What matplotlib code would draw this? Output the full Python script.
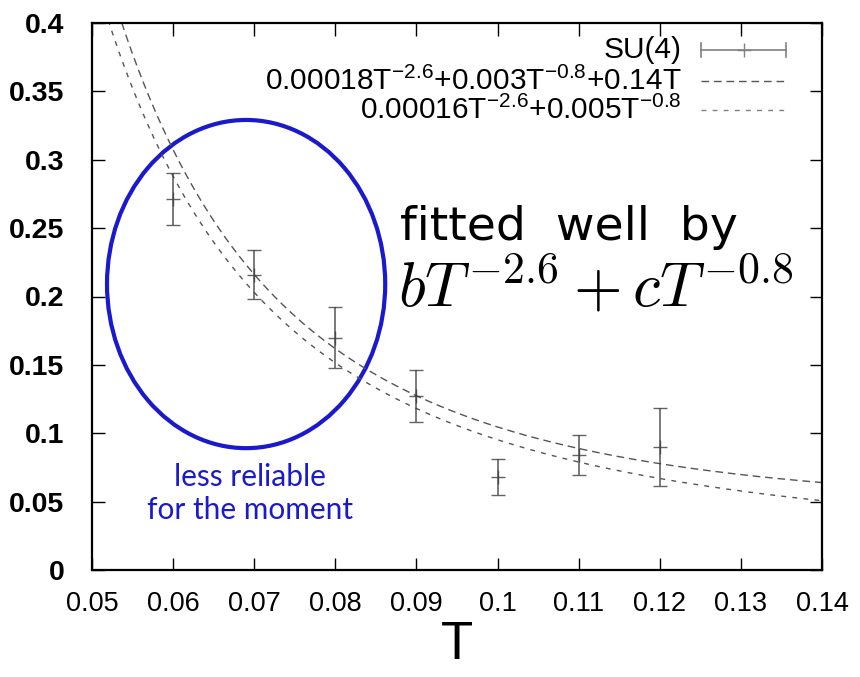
import numpy as np
import matplotlib
matplotlib.use("Agg")
import matplotlib.pyplot as plt
from matplotlib.patches import Ellipse

# SU(4) data points
T_pts = [0.06, 0.07, 0.08, 0.09, 0.10, 0.11, 0.12]
val_pts = [0.271, 0.216, 0.170, 0.127, 0.068, 0.084, 0.090]
err_pts = [0.019, 0.018, 0.022, 0.019, 0.013, 0.0145, 0.0285]

# fit coefficients: b T^-2.6 + c T^-0.8 (+ d T)
FIT1 = (0.00018, 0.003, 0.14)
FIT2 = (0.00016, 0.005, 0.0)

xticks = [0.05, 0.06, 0.07, 0.08, 0.09, 0.10, 0.11, 0.12, 0.13, 0.14]
xticklabels = ["0.05", "0.06", "0.07", "0.08", "0.09", "0.1", "0.11", "0.12", "0.13", "0.14"]
yticks = [0, 0.05, 0.10, 0.15, 0.20, 0.25, 0.30, 0.35, 0.40]
yticklabels = ["0", "0.05", "0.1", "0.15", "0.2", "0.25", "0.3", "0.35", "0.4"]

labels = ["SU(4)",
          r"0.00018T$^{-2.6}$+0.003T$^{-0.8}$+0.14T",
          r"0.00016T$^{-2.6}$+0.005T$^{-0.8}$"]

plt.rcParams["font.family"] = ["Liberation Sans", "DejaVu Sans"]
plt.rcParams["mathtext.fontset"] = "custom"
plt.rcParams["mathtext.rm"] = "Liberation Sans"
plt.rcParams["mathtext.it"] = "Liberation Sans:italic"

GRAY = "#555555"
BLUE = "#1a1acc"


def fit(T, b, c, d):
    return b * T ** -2.6 + c * T ** -0.8 + d * T


fig = plt.figure(figsize=(8.6, 6.77), dpi=100)
ax = fig.add_axes([92 / 860, 107 / 677, 730 / 860, 547 / 677])

T = np.linspace(0.05, 0.14, 500)
ax.plot(T, fit(T, *FIT1), color=GRAY, lw=1.0, ls=(0, (5.5, 3.5)))
ax.plot(T, fit(T, *FIT2), color=GRAY, lw=1.0, ls=(0, (3.5, 4.5)))

ax.errorbar(T_pts, val_pts, yerr=err_pts, fmt="+", color="#3c3c3c", ms=10,
            mew=1.0, elinewidth=1.2, capsize=5, capthick=1.2, alpha=0.8)

ax.set_xlim(0.05, 0.14)
ax.set_ylim(0, 0.4)
ax.set_xticks(xticks)
ax.set_xticklabels(xticklabels, fontsize=19.5)
ax.set_yticks(yticks)
ax.set_yticklabels(yticklabels, fontsize=20.5, fontweight="bold")
ax.tick_params(direction="in", length=9, width=1.0, top=True, right=True)
ax.tick_params(axis="y", pad=20)
ax.tick_params(axis="x", pad=15)
for s in ax.spines.values():
    s.set_linewidth(1.6)
ax.set_xlabel("T", fontsize=38, labelpad=2)

# key, gnuplot style: right-aligned text with sample on the right
key_y = [0.951, 0.894, 0.841]
tx, x0, x1 = 0.808, 0.834, 0.951
for yk, lab in zip(key_y, labels):
    ax.text(tx, yk, lab, transform=ax.transAxes, ha="right", va="center",
            fontsize=21.5, math_fontfamily="custom")
ax.plot([x0, x1], [key_y[0]] * 2, transform=ax.transAxes, color="#808080", lw=1.2)
for xe in (x0, x1):
    ax.plot([xe, xe], [key_y[0] - 0.013, key_y[0] + 0.013], transform=ax.transAxes,
            color="#808080", lw=1.2)
ax.plot([(x0 + x1) / 2], [key_y[0]], transform=ax.transAxes, marker="+", ms=10,
        color="#808080", mew=1.0)
ax.plot([x0, x1], [key_y[1]] * 2, transform=ax.transAxes, color=GRAY, lw=1.0,
        ls=(0, (5.5, 3.5)))
ax.plot([x0, x1], [key_y[2]] * 2, transform=ax.transAxes, color="#808080", lw=1.0,
        ls=(0, (3.5, 4.5)))

# highlighted low-T region
ax.add_patch(Ellipse((0.069, 0.2091), 0.0343, 0.240, fill=False, ec=BLUE, lw=3.0,
                     clip_on=False))
ax.text(0.0695, 0.056, "less reliable\nfor the moment", ha="center", va="center",
        color=BLUE, fontsize=21.5, family="Lato", linespacing=1.2)

ax.text(0.0880, 0.241, "fitted  well  by", fontsize=34, family="DejaVu Sans",
        ha="left", va="baseline")
ax.text(0.0877, 0.1925, r"$bT^{-2.6}+cT^{-0.8}$", fontsize=45, math_fontfamily="cm",
        ha="left", va="baseline")

fig.savefig("out.png", dpi=100)
